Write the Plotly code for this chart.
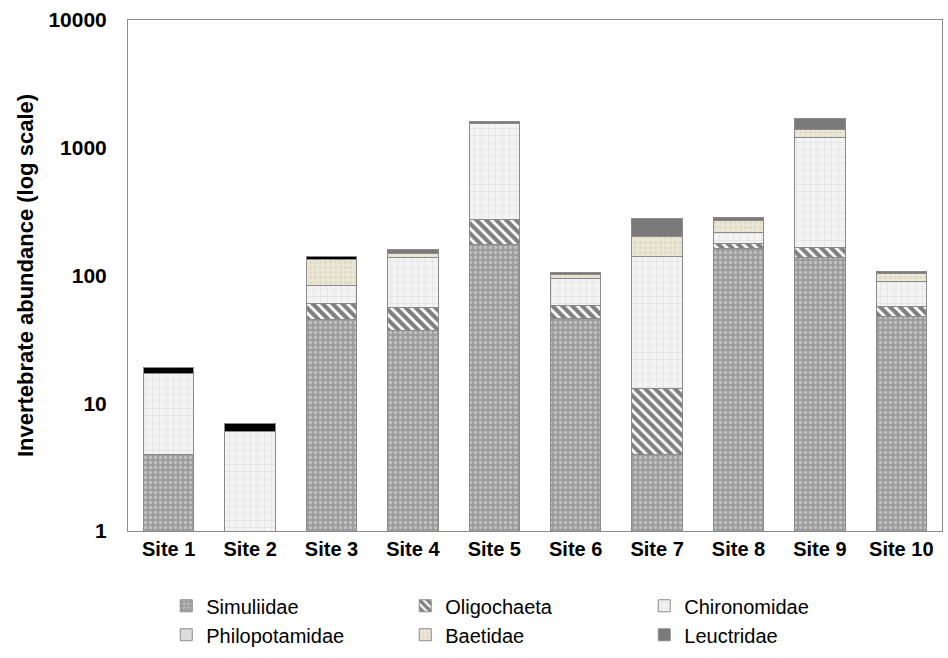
import plotly.graph_objects as go

sites = ["Site 1", "Site 2", "Site 3", "Site 4", "Site 5",
         "Site 6", "Site 7", "Site 8", "Site 9", "Site 10"]

simuliidae     = [4, 0, 45, 37, 175, 46, 4, 162, 138, 48]
oligochaeta    = [0, 0, 15, 19, 97, 12, 9, 15, 27, 9]
chironomidae   = [13, 6, 23, 82, 1280, 36, 129, 40, 1042, 32]
philopotamidae = [0, 0, 0, 0, 0, 0, 0, 0, 0, 0]
baetidae       = [0, 0, 50, 11, 0, 8, 59, 53, 186, 14]
leuctridae     = [0, 0, 0, 11, 45, 3, 76, 16, 307, 4]
other_taxa     = [2, 1, 8, 0, 0, 0, 0, 0, 0, 0]

FONT = "Liberation Sans, Arial, sans-serif"
EDGE = dict(color="#8a8a8a", width=1)

series = [
    ("Simuliidae", simuliidae,
     dict(shape=".", bgcolor="#9c9c9c", fgcolor="#e6e6e6", size=5, solidity=0.35, fillmode="overlay"), True),
    ("Oligochaeta", oligochaeta,
     dict(shape="\\", bgcolor="#ffffff", fgcolor="#000000", size=7, solidity=0.6, fillmode="overlay"), True),
    ("Chironomidae", chironomidae,
     dict(shape="+", bgcolor="#f3f3f3", fgcolor="#c4c4c4", size=7, solidity=0.15, fillmode="overlay"), True),
    ("Philopotamidae", philopotamidae, dict(shape=""), True),
    ("Baetidae", baetidae,
     dict(shape=".", bgcolor="#ebe7d6", fgcolor="#cfc9b0", size=5, solidity=0.3, fillmode="overlay"), True),
    ("Leuctridae", leuctridae, dict(shape=""), True),
    ("Other taxa", other_taxa, dict(shape=""), False),
]
solid = {"Philopotamidae": "#dcdcdc", "Leuctridae": "#7a7a7a", "Other taxa": "#000000"}

fig = go.Figure()
for name, vals, pattern, show in series:
    fig.add_trace(go.Bar(
        x=sites, y=vals, name=name, showlegend=show,
        marker=dict(color=solid.get(name, pattern.get("bgcolor", "#ffffff")),
                    line=EDGE, pattern=pattern),
    ))

fig.update_layout(
    barmode="stack",
    bargap=0.38,
    width=948, height=658,
    margin=dict(l=128, r=6, t=20, b=127),
    paper_bgcolor="white", plot_bgcolor="white",
    font=dict(family=FONT, size=20, color="black"),
    legend=dict(orientation="h", xref="paper", x=0.047, yref="container", y=0.109,
                xanchor="left", yanchor="top",
                traceorder="normal", entrywidth=194, entrywidthmode="pixels",
                font=dict(size=20, family=FONT), itemwidth=30, tracegroupgap=0),
)
fig.update_xaxes(
    showline=True, linecolor="#8a8a8a", linewidth=1, mirror=True,
    tickfont=dict(size=20, family=FONT, weight="bold"), ticks="",
)
fig.update_yaxes(
    type="log", range=[0, 4], showline=True, linecolor="#8a8a8a", linewidth=1, mirror=True,
    showgrid=False, tickvals=[1, 10, 100, 1000, 10000],
    ticktext=["1", "10", "100", "1000", "10000"],
    tickfont=dict(size=21, family=FONT, weight="bold"), ticklabelstandoff=16,
    title=dict(text="Invertebrate abundance (log scale)",
               font=dict(size=22, family=FONT, weight="bold"), standoff=8),
)

fig.write_html("out.html")
